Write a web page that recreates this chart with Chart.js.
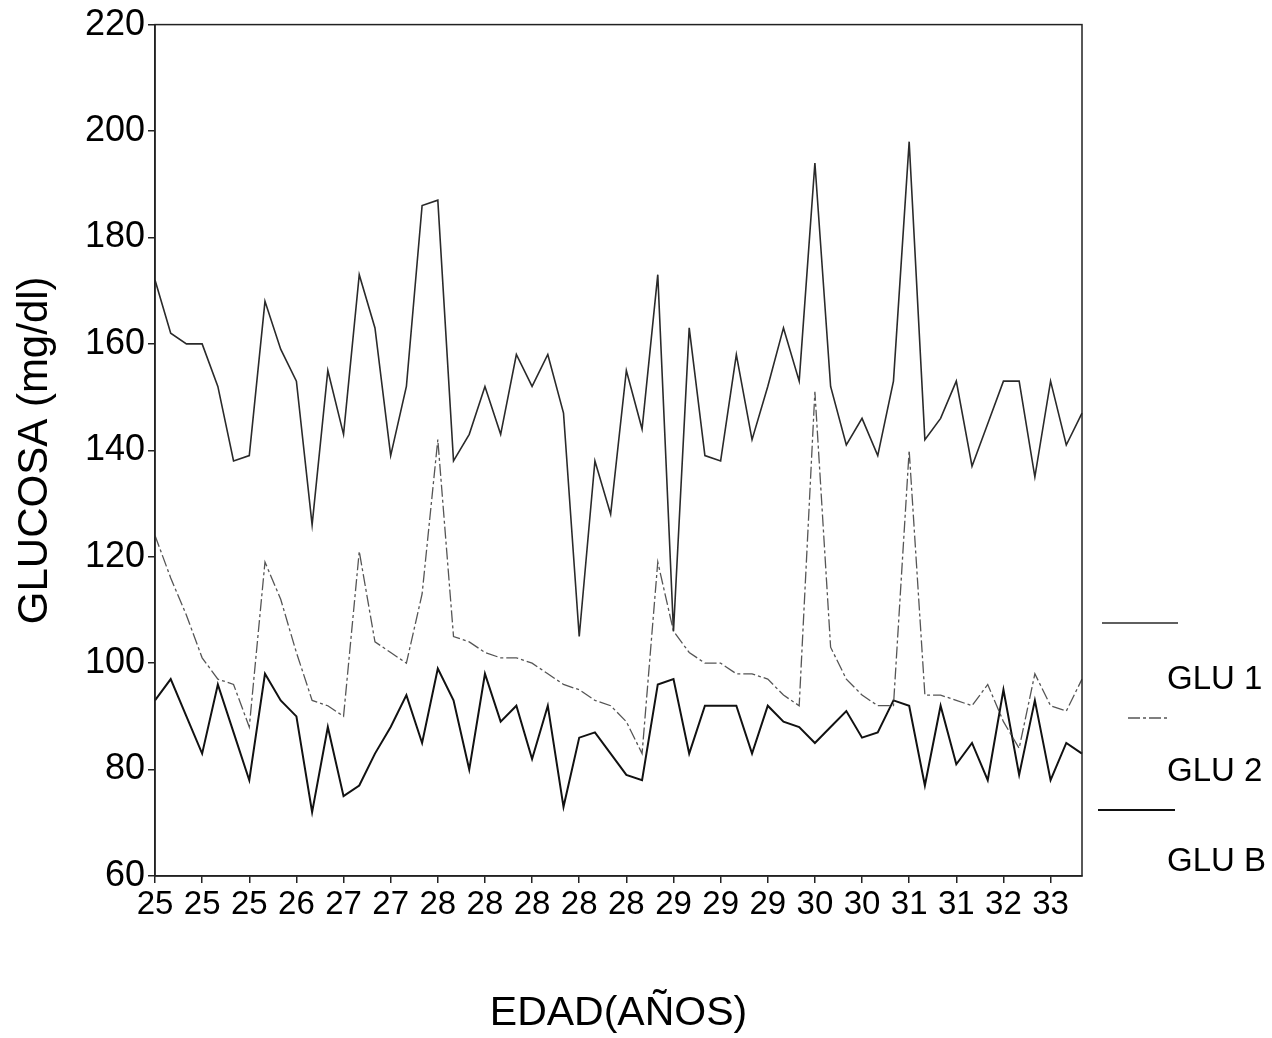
<!DOCTYPE html>
<html lang="es">
<head>
<meta charset="UTF-8">
<title>Glucosa por edad</title>
<script src="https://cdn.jsdelivr.net/npm/chart.js"></script>
<style>
    html, body { margin: 0; padding: 0; background: #ffffff; }
    #wrap { width: 1272px; height: 1038px; }
</style>
</head>
<body>
<div id="wrap"><canvas id="glucosaChart" width="1272" height="1038"></canvas></div>
<script>
    // ages of each patient (only every third one is labelled on the axis)
    const edades = [
        25, 25, 25, 25, 25, 25, 25, 25, 25, 26,
        26, 26, 27, 27, 27, 27, 27, 27, 28, 28,
        28, 28, 28, 28, 28, 28, 28, 28, 28, 28,
        28, 28, 28, 29, 29, 29, 29, 29, 29, 29,
        29, 29, 30, 30, 30, 30, 30, 30, 31, 31,
        31, 31, 31, 31, 32, 32, 32, 33, 33, 33
    ];

    const glu1 = [
        172, 162, 160, 160, 152, 138, 139, 168, 159, 153,
        126, 155, 143, 173, 163, 139, 152, 186, 187, 138,
        143, 152, 143, 158, 152, 158, 147, 105, 138, 128,
        155, 144, 173, 106, 163, 139, 138, 158, 142, 152,
        163, 153, 194, 152, 141, 146, 139, 153, 198, 142,
        146, 153, 137, 145, 153, 153, 135, 153, 141, 147
    ];

    const glu2 = [
        124, 116, 109, 101, 97, 96, 88, 119, 112, 102,
        93, 92, 90, 121, 104, 102, 100, 113, 142, 105,
        104, 102, 101, 101, 100, 98, 96, 95, 93, 92,
        89, 83, 119, 106, 102, 100, 100, 98, 98, 97,
        94, 92, 151, 103, 97, 94, 92, 92, 140, 94,
        94, 93, 92, 96, 89, 84, 98, 92, 91, 97
    ];

    const gluB = [
        93, 97, 90, 83, 96, 87, 78, 98, 93, 90,
        72, 88, 75, 77, 83, 88, 94, 85, 99, 93,
        80, 98, 89, 92, 82, 92, 73, 86, 87, 83,
        79, 78, 96, 97, 83, 92, 92, 92, 83, 92,
        89, 88, 85, 88, 91, 86, 87, 93, 92, 77,
        92, 81, 85, 78, 95, 79, 93, 78, 85, 83
    ];

    const nombres = ['GLU 1', 'GLU 2', 'GLU B'];
    const yMin = 60, yMax = 220, yStep = 20;
    const labelEvery = 3;

    const fuente = "'Liberation Sans', Arial, sans-serif";

    // frame round the plot
    const marco = {
        id: 'marco',
        afterDraw(chart) {
            const { ctx, chartArea: a } = chart;
            ctx.save();
            ctx.strokeStyle = '#222';
            ctx.lineWidth = 1.5;
            ctx.strokeRect(a.left, a.top, a.right - a.left, a.bottom - a.top);
            ctx.restore();
        }
    };

    // legend drawn at the right, sample line above each name
    const leyenda = {
        id: 'leyenda',
        afterDraw(chart) {
            const ctx = chart.ctx;
            const filas = [
                { y: 623, x1: 1102, x2: 1178, ty: 680 },
                { y: 718, x1: 1128, x2: 1170, ty: 772 },
                { y: 810, x1: 1098, x2: 1175, ty: 862 }
            ];
            ctx.save();
            chart.data.datasets.forEach((ds, i) => {
                const f = filas[i];
                ctx.strokeStyle = ds.borderColor;
                ctx.lineWidth = ds.borderWidth;
                ctx.setLineDash(ds.borderDash || []);
                ctx.beginPath();
                ctx.moveTo(f.x1, f.y);
                ctx.lineTo(f.x2, f.y);
                ctx.stroke();
                ctx.setLineDash([]);
                ctx.fillStyle = '#000';
                ctx.font = '33px ' + fuente;
                ctx.textBaseline = 'middle';
                ctx.textAlign = 'left';
                ctx.fillText(ds.label, 1167, f.ty);
            });
            ctx.restore();
        }
    };

    new Chart(document.getElementById('glucosaChart'), {
        type: 'line',
        data: {
            labels: edades,
            datasets: [
                { label: nombres[0], data: glu1, borderColor: '#2a2a2a', borderWidth: 1.6 },
                { label: nombres[1], data: glu2, borderColor: '#555555', borderWidth: 1.3, borderDash: [12, 3, 3, 3] },
                { label: nombres[2], data: gluB, borderColor: '#111111', borderWidth: 2 }
            ]
        },
        options: {
            responsive: false,
            animation: false,
            layout: { padding: { left: 0, top: 22, right: 190, bottom: 0 } },
            elements: {
                point: { radius: 0 },
                line: { tension: 0, fill: false }
            },
            plugins: {
                legend: { display: false },
                tooltip: { enabled: false }
            },
            scales: {
                x: {
                    afterBuildTicks: axis => {
                        axis.ticks = axis.ticks.filter((t, i) => i % labelEvery === 0);
                    },
                    afterFit: axis => { axis.height = 162; },
                    grid: { drawOnChartArea: false, drawTicks: true, tickLength: 7, color: '#222', lineWidth: 1.5 },
                    border: { display: true, color: '#222', width: 1.5 },
                    ticks: {
                        autoSkip: false,
                        maxRotation: 0,
                        color: '#000',
                        padding: 2,
                        font: { family: fuente, size: 33 }
                    },
                    title: {
                        display: true,
                        text: 'EDAD(AÑOS)',
                        color: '#000',
                        padding: { top: 0, bottom: 0 },
                        font: { family: fuente, size: 41 }
                    }
                },
                y: {
                    min: yMin,
                    max: yMax,
                    afterFit: axis => { axis.width = 155; },
                    grid: { drawOnChartArea: false, drawTicks: true, tickLength: 7, color: '#222', lineWidth: 1.5 },
                    border: { display: true, color: '#222', width: 1.5 },
                    ticks: {
                        stepSize: yStep,
                        color: '#000',
                        padding: 3,
                        font: { family: fuente, size: 36 }
                    },
                    title: {
                        display: true,
                        text: 'GLUCOSA (mg/dl)',
                        color: '#000',
                        padding: { top: 10, bottom: 0 },
                        font: { family: fuente, size: 42 }
                    }
                }
            }
        },
        plugins: [marco, leyenda]
    });
</script>
</body>
</html>
